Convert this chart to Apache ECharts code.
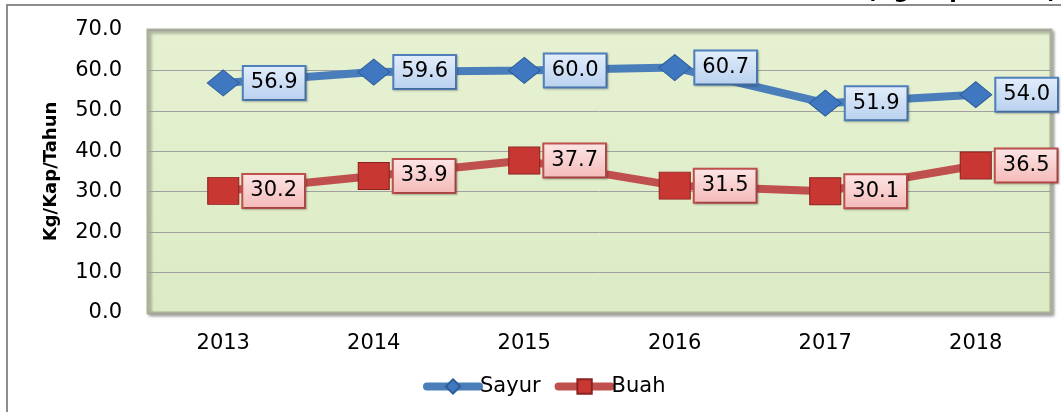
<!DOCTYPE html>
<html>
<head>
<meta charset="utf-8">
<script src="https://cdn.jsdelivr.net/npm/echarts@6/dist/echarts.min.js"></script>
<style>
  html, body { margin: 0; padding: 0; background: #fff; }
  #main { width: 1061px; height: 412px; }
</style>
</head>
<body>
<div id="main"></div>
<script>
var years = ['2013', '2014', '2015', '2016', '2017', '2018'];
var sayur = [56.9, 59.6, 60.0, 60.7, 51.9, 54.0];
var buah = [30.2, 33.9, 37.7, 31.5, 30.1, 36.5];

var chart = echarts.init(document.getElementById('main'));

function labelStyle(border, top, bottom) {
  return {
    show: true,
    position: 'right',
    distance: 4,
    fontFamily: 'DejaVu Sans',
    fontSize: 21,
    color: '#000',
    padding: [6, 7, 5, 7],
    borderColor: border,
    borderWidth: 2,
    backgroundColor: new echarts.graphic.LinearGradient(0, 0, 0, 1, [
      { offset: 0, color: top },
      { offset: 1, color: bottom }
    ]),
    shadowColor: 'rgba(0,0,0,0.25)',
    shadowOffsetX: 1,
    shadowOffsetY: 1,
    shadowBlur: 2,
    formatter: function (p) { return p.value.toFixed(1); }
  };
}

var option = {
  animation: false,
  textStyle: { fontFamily: 'DejaVu Sans' },
  graphic: [
    {
      type: 'polyline',
      shape: { points: [[7, 412], [7, 5], [1061, 5]] },
      style: { stroke: '#8c8c8c', lineWidth: 2, fill: null }
    },
    {
      type: 'text',
      right: 4,
      top: -19,
      style: { text: '(Kg/Kap/Tahun)', font: 'bold 22px DejaVu Sans', fill: '#000' }
    }
  ],
  grid: {
    left: 148,
    right: 10,
    top: 30,
    bottom: 99,
    show: true,
    backgroundColor: new echarts.graphic.LinearGradient(0, 0, 0, 1, [
      { offset: 0, color: '#e6f1d2' },
      { offset: 1, color: '#dcebc4' }
    ]),
    borderColor: '#aab39a',
    borderWidth: 3,
    shadowColor: 'rgba(0,0,0,0.3)',
    shadowBlur: 3,
    shadowOffsetX: 2,
    shadowOffsetY: 2
  },
  legend: {
    bottom: 10,
    left: 418,
    itemWidth: 52,
    itemHeight: 18,
    itemGap: 14,
    lineStyle: { width: 8, cap: 'round' },
    textStyle: { fontSize: 21, color: '#000', fontFamily: 'DejaVu Sans', padding: [0, 0, 0, -4] },
    data: ['Sayur', 'Buah']
  },
  xAxis: {
    type: 'category',
    data: years,
    axisLine: { show: false },
    axisTick: { show: false },
    axisLabel: { fontSize: 21, color: '#000', margin: 20 }
  },
  yAxis: {
    type: 'value',
    min: 0,
    max: 70,
    interval: 10,
    name: 'Kg/Kap/Tahun',
    nameLocation: 'middle',
    nameGap: 88,
    nameTextStyle: { fontSize: 18, fontWeight: 'bold', color: '#000' },
    axisLabel: {
      fontSize: 21,
      color: '#000',
      margin: 26,
      formatter: function (v) { return v.toFixed(1); }
    },
    splitLine: { lineStyle: { color: '#a0a0a0', width: 1 } }
  },
  series: [
    {
      name: 'Sayur',
      type: 'line',
      data: sayur,
      symbol: 'diamond',
      symbolSize: [32, 26],
      lineStyle: { color: '#4a7ebb', width: 8 },
      itemStyle: { color: '#3f78c0', borderColor: '#2c5d99', borderWidth: 1 },
      label: labelStyle('#4f81bd', '#e3eefb', '#b8d0ef'),
      z: 3
    },
    {
      name: 'Buah',
      type: 'line',
      data: buah,
      symbol: 'rect',
      symbolSize: [31, 27],
      lineStyle: { color: '#c0504d', width: 8 },
      itemStyle: { color: '#c93733', borderColor: '#8c2220', borderWidth: 1 },
      label: labelStyle('#c0504d', '#fde6e6', '#f4b9b8'),
      z: 2
    }
  ]
};

chart.setOption(option);
</script>
</body>
</html>
